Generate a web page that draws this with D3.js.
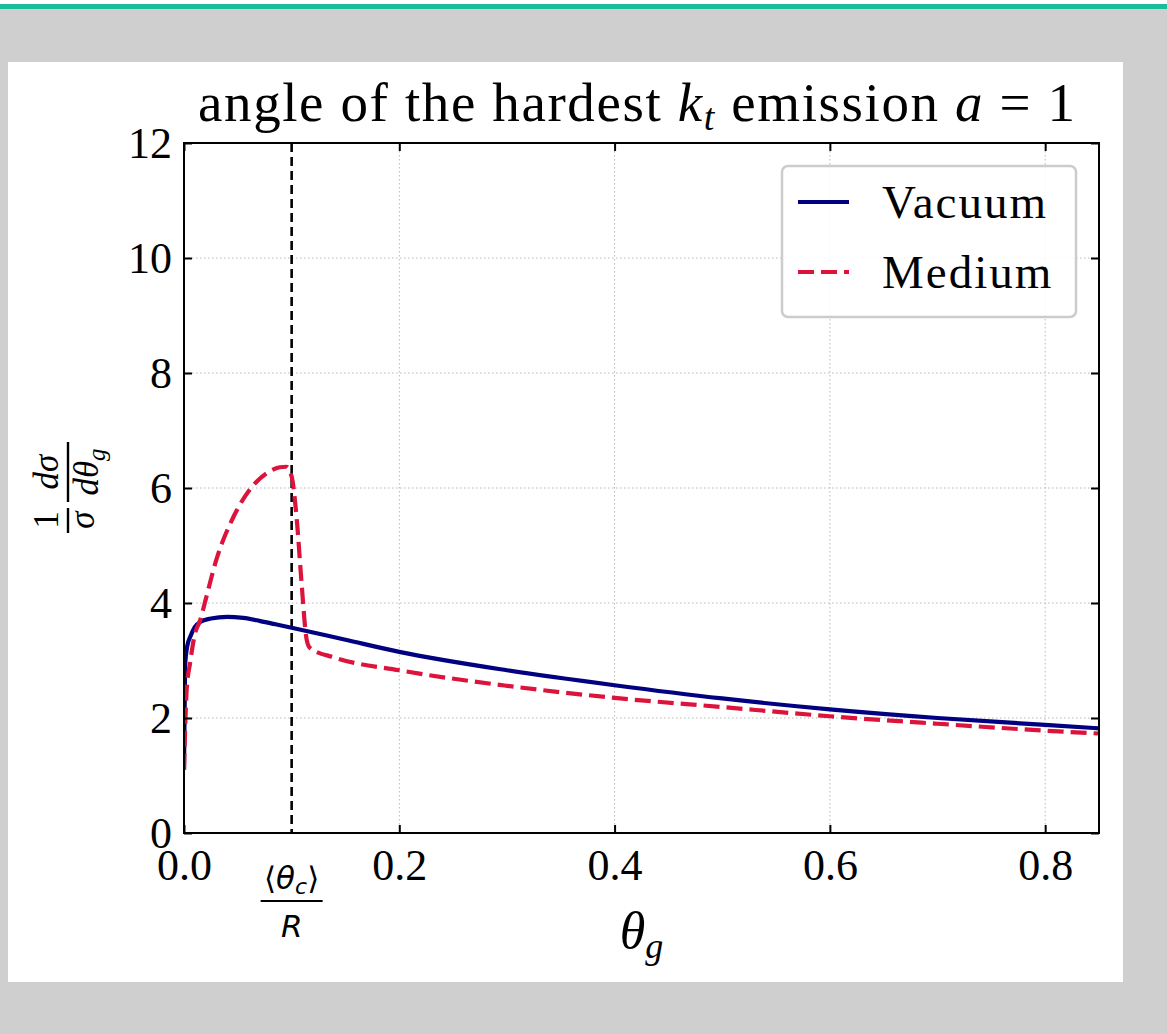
<!DOCTYPE html>
<html>
<head>
<meta charset="utf-8">
<script src="https://cdn.jsdelivr.net/npm/d3@7"></script>
<style>
  html, body { margin: 0; padding: 0; background: #d0cfd0; }
  svg { display: block; }
</style>
</head>
<body>
<div id="chart"></div>
<script>
(function() {
  var W = 1167, H = 1034;

  // data
  var thetaVac = [0.0, 0.001, 0.003, 0.006, 0.01, 0.015, 0.025, 0.04, 0.055, 0.07, 0.085, 0.1, 0.15, 0.2, 0.3, 0.4, 0.5, 0.6, 0.7, 0.8, 0.85];
  var vacuum   = [1.1, 2.9, 3.25, 3.42, 3.58, 3.67, 3.73, 3.76, 3.74, 3.69, 3.63, 3.57, 3.36, 3.15, 2.83, 2.57, 2.34, 2.15, 2.0, 1.88, 1.82];

  var thetaMed = [0.0, 0.0025, 0.0056, 0.01, 0.015, 0.02, 0.03, 0.046, 0.061, 0.077, 0.089, 0.095, 0.1, 0.105, 0.109, 0.114, 0.117, 0.14, 0.2, 0.3, 0.4, 0.5, 0.6, 0.7, 0.8, 0.85];
  var medium   = [1.1, 2.5, 2.95, 3.45, 3.7, 4.05, 4.75, 5.5, 5.97, 6.26, 6.36, 6.37, 6.2, 5.4, 4.4, 3.36, 3.22, 3.05, 2.83, 2.56, 2.35, 2.19, 2.03, 1.9, 1.78, 1.73];

  var xTicks = [0.0, 0.2, 0.4, 0.6, 0.8];
  var yTicks = [0, 2, 4, 6, 8, 10, 12];
  var thetaC = 0.1;
  var seriesNames = ["Vacuum", "Medium"];

  var margin = {left: 184, top: 143, right: 1099, bottom: 833};

  var svg = d3.select("#chart").append("svg")
    .attr("width", W).attr("height", H);

  svg.append("rect").attr("width", W).attr("height", H).attr("fill", "#d0cfd0");
  svg.append("rect").attr("x", 0).attr("y", 0).attr("width", W).attr("height", 4).attr("fill", "#ffffff");
  svg.append("rect").attr("x", 0).attr("y", 4).attr("width", W).attr("height", 5).attr("fill", "#1abc9c");
  svg.append("rect").attr("x", 8).attr("y", 62).attr("width", 1115).attr("height", 920).attr("fill", "#ffffff");

  var x = d3.scaleLinear().domain([0, 0.85]).range([margin.left, margin.right]);
  var y = d3.scaleLinear().domain([0, 12]).range([margin.bottom, margin.top]);

  var font = "'Liberation Serif', 'Times New Roman', serif";

  // grid
  var grid = svg.append("g");
  grid.selectAll("line.gx").data(xTicks.slice(1)).enter().append("line")
    .attr("x1", function(d) { return x(d); }).attr("x2", function(d) { return x(d); })
    .attr("y1", margin.top).attr("y2", margin.bottom)
    .attr("stroke", "#b8b8b8").attr("stroke-width", 1).attr("stroke-dasharray", "1.5,2.5");
  grid.selectAll("line.gy").data(yTicks.slice(1, -1)).enter().append("line")
    .attr("y1", function(d) { return y(d); }).attr("y2", function(d) { return y(d); })
    .attr("x1", margin.left).attr("x2", margin.right)
    .attr("stroke", "#b8b8b8").attr("stroke-width", 1).attr("stroke-dasharray", "1.5,2.5");

  // theta_c marker
  svg.append("line")
    .attr("x1", x(thetaC)).attr("x2", x(thetaC))
    .attr("y1", margin.top).attr("y2", margin.bottom)
    .attr("stroke", "#000").attr("stroke-width", 2.6).attr("stroke-dasharray", "9,5");

  // curves
  var line = d3.line()
    .x(function(d) { return x(d[0]); })
    .y(function(d) { return y(d[1]); })
    .curve(d3.curveMonotoneX);

  svg.append("clipPath").attr("id", "clip").append("rect")
    .attr("x", margin.left).attr("y", margin.top)
    .attr("width", margin.right - margin.left).attr("height", margin.bottom - margin.top);

  svg.append("path")
    .datum(d3.zip(thetaVac, vacuum))
    .attr("clip-path", "url(#clip)")
    .attr("d", line).attr("fill", "none")
    .attr("stroke", "#000080").attr("stroke-width", 4.2);

  svg.append("path")
    .datum(d3.zip(thetaMed, medium))
    .attr("clip-path", "url(#clip)")
    .attr("d", line).attr("fill", "none")
    .attr("stroke", "#dc143c").attr("stroke-width", 4.2).attr("stroke-dasharray", "16,7");

  // axes, ticks inward on all sides
  var tickLen = 8;
  var axB = svg.append("g").attr("transform", "translate(0," + margin.bottom + ")")
    .call(d3.axisBottom(x).tickValues(xTicks).tickSizeInner(-tickLen).tickSizeOuter(0).tickPadding(16).tickFormat(d3.format(".1f")));
  var axT = svg.append("g").attr("transform", "translate(0," + margin.top + ")")
    .call(d3.axisTop(x).tickValues(xTicks).tickSizeInner(-tickLen).tickSizeOuter(0).tickFormat(""));
  var axL = svg.append("g").attr("transform", "translate(" + margin.left + ",0)")
    .call(d3.axisLeft(y).tickValues(yTicks).tickSizeInner(-tickLen).tickSizeOuter(0).tickPadding(12).tickFormat(d3.format("d")));
  var axR = svg.append("g").attr("transform", "translate(" + margin.right + ",0)")
    .call(d3.axisRight(y).tickValues(yTicks).tickSizeInner(-tickLen).tickSizeOuter(0).tickFormat(""));

  [axB, axT, axL, axR].forEach(function(a) {
    a.select(".domain").remove();
    a.selectAll(".tick line").attr("stroke", "#000").attr("stroke-width", 2);
    a.selectAll("text").attr("font-family", font).attr("font-size", 44).attr("fill", "#000");
  });
  axB.selectAll("text").attr("dy", "0.71em");
  axL.selectAll("text").attr("dy", "0.34em");

  svg.append("rect")
    .attr("x", margin.left).attr("y", margin.top)
    .attr("width", margin.right - margin.left).attr("height", margin.bottom - margin.top)
    .attr("fill", "none").attr("stroke", "#000").attr("stroke-width", 2);

  // extra tick label <theta_c>/R
  var tc = svg.append("g").attr("transform", "translate(" + x(thetaC) + ",0)")
    .attr("font-family", "'DejaVu Sans', sans-serif").attr("font-size", 31).attr("text-anchor", "middle");
  var tcn = tc.append("text").attr("y", 889);
  tcn.append("tspan").text("\u27E8");
  tcn.append("tspan").attr("font-style", "italic").text("\u03B8");
  tcn.append("tspan").attr("font-style", "italic").attr("font-size", 22).attr("dy", 5).text("c");
  tcn.append("tspan").attr("dy", -5).text("\u27E9");
  tc.append("line").attr("x1", -31).attr("x2", 31).attr("y1", 901).attr("y2", 901)
    .attr("stroke", "#000").attr("stroke-width", 2.2);
  tc.append("text").attr("y", 937).attr("font-style", "italic").text("R");

  // x label
  var xl = svg.append("text").attr("x", (margin.left + margin.right) / 2).attr("y", 948)
    .attr("text-anchor", "middle").attr("font-family", font).attr("font-size", 52);
  xl.append("tspan").attr("font-style", "italic").text("\u03B8");
  xl.append("tspan").attr("font-style", "italic").attr("font-size", 36).attr("dy", 10).text("g");

  // y label: 1/sigma dsigma/dtheta_g
  var yl = svg.append("g").attr("transform", "translate(68,488) rotate(-90)")
    .attr("font-family", font).attr("font-size", 35).attr("text-anchor", "middle");
  yl.append("line").attr("x1", -45).attr("x2", -20).attr("y1", 0).attr("y2", 0)
    .attr("stroke", "#000").attr("stroke-width", 2.4);
  yl.append("text").attr("x", -32).attr("y", -10).text("1");
  yl.append("text").attr("x", -32).attr("y", 26).attr("font-style", "italic").text("\u03C3");
  yl.append("line").attr("x1", -14).attr("x2", 46).attr("y1", 0).attr("y2", 0)
    .attr("stroke", "#000").attr("stroke-width", 2.4);
  yl.append("text").attr("x", 16).attr("y", -10).attr("font-style", "italic").text("d\u03C3");
  var yd = yl.append("text").attr("x", 16).attr("y", 30).attr("font-style", "italic");
  yd.append("tspan").text("d\u03B8");
  yd.append("tspan").attr("font-size", 25).attr("dy", 7).text("g");

  // title
  var t = svg.append("text").attr("x", 198).attr("y", 121)
    .attr("font-family", font).attr("font-size", 55).attr("fill", "#000")
    .attr("textLength", 877).attr("lengthAdjust", "spacing");
  t.append("tspan").text("angle of the hardest ");
  t.append("tspan").attr("font-style", "italic").text("k");
  t.append("tspan").attr("font-style", "italic").attr("font-size", 38).attr("dy", 9).text("t");
  t.append("tspan").attr("dy", -9).text(" emission ");
  t.append("tspan").attr("font-style", "italic").text("a");
  t.append("tspan").text(" = 1");

  // legend
  var lg = svg.append("g");
  lg.append("rect").attr("x", 782).attr("y", 166).attr("width", 294).attr("height", 151)
    .attr("rx", 6).attr("fill", "#fff").attr("fill-opacity", 0.85)
    .attr("stroke", "#cccccc").attr("stroke-width", 2.5);
  var legColors = ["#000080", "#dc143c"];
  var legDash = [null, "16,7"];
  seriesNames.forEach(function(name, i) {
    var yy = 202 + i * 70;
    lg.append("line").attr("x1", 798).attr("x2", 849).attr("y1", yy).attr("y2", yy)
      .attr("stroke", legColors[i]).attr("stroke-width", 4.2)
      .attr("stroke-dasharray", legDash[i]);
    lg.append("text").attr("x", 882).attr("y", yy + 16)
      .attr("font-family", font).attr("font-size", 47).attr("letter-spacing", 2).attr("fill", "#000").text(name);
  });
})();
</script>
</body>
</html>
